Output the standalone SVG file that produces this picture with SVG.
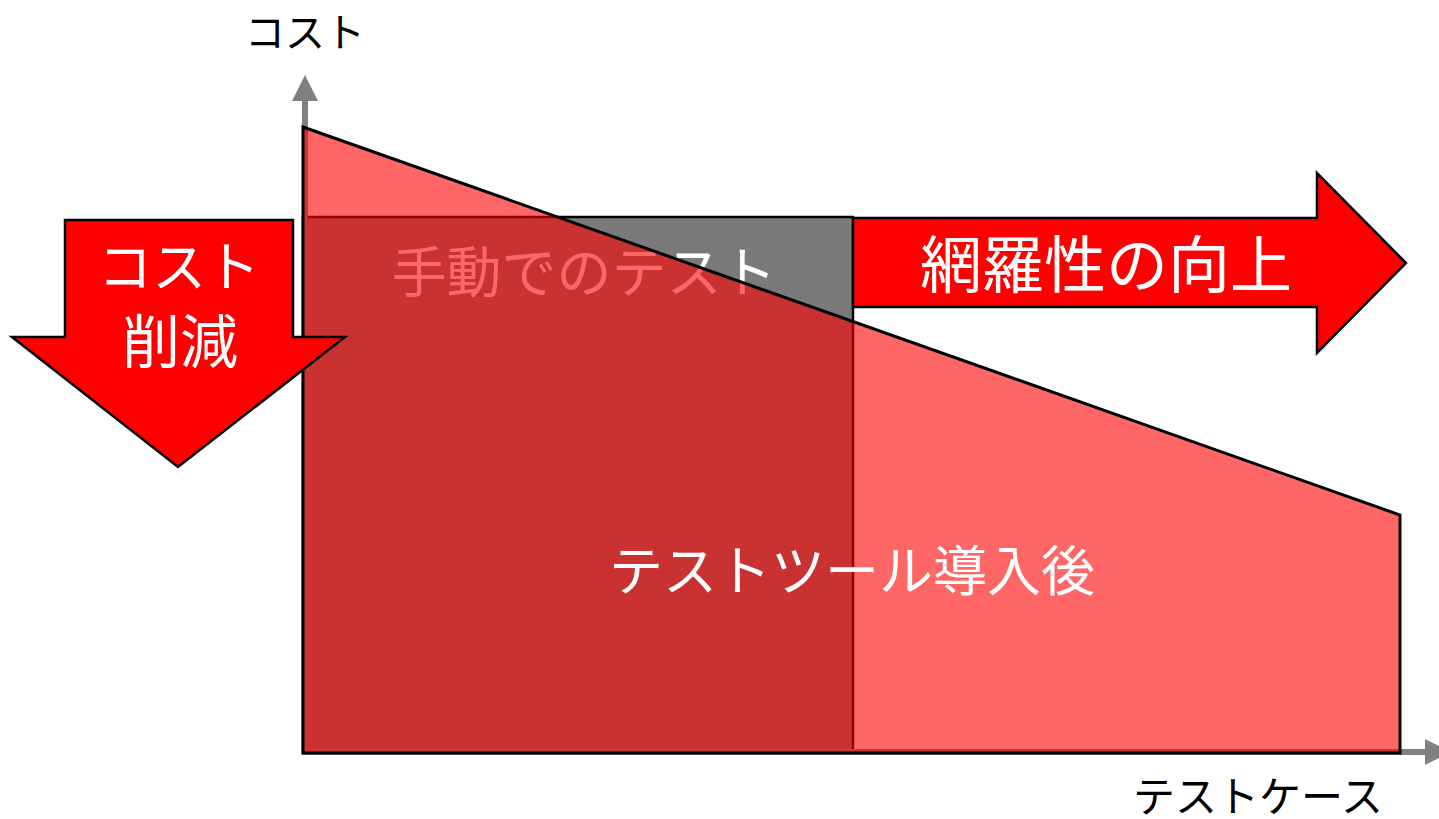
<svg xmlns="http://www.w3.org/2000/svg" width="1439" height="819" viewBox="0 0 1439 819">
<style>
text{font-family:"Noto Sans CJK JP","Noto Sans",sans-serif;}
.w{fill:#FFFFFF;}
.k{fill:#000000;}
.ax{stroke:#808080;stroke-width:6;fill:none;}
.axh{fill:#808080;}
.arr{fill:#FF0000;stroke:#000000;stroke-width:2.5;stroke-linejoin:miter;}
</style>
<rect width="1439" height="819" fill="#FFFFFF"/>
<g id="manual">
<rect x="303" y="217" width="550" height="536" fill="#7A7A7A" stroke="#000000" stroke-width="2.5"/>
<text class="w" x="584" y="292" font-size="55" text-anchor="middle">手動でのテスト</text>
</g>
<g id="axes">
<line class="ax" x1="305" y1="755" x2="305" y2="100"/>
<polygon class="axh" points="292,101 305,75 318,101"/>
<line class="ax" x1="303" y1="752" x2="1426" y2="752"/>
<polygon class="axh" points="1425,739 1451,752 1425,765"/>
</g>
<g id="after-tool">
<polygon points="303,127 1400,515 1400,753 303,753" fill="#FF0000" fill-opacity="0.6" stroke="#000000" stroke-width="3" stroke-linejoin="miter"/>
<text class="w" x="852" y="591" font-size="54" text-anchor="middle">テストツール導入後</text>
</g>
<g id="cost-down">
<polygon class="arr" points="65,220 293,220 293,337 345,337 178,467 12,337 65,337"/>
<text class="w" x="179" y="287" font-size="54" text-anchor="middle">コスト</text>
<text class="w" x="180" y="363" font-size="58" text-anchor="middle">削減</text>
</g>
<g id="coverage-up">
<polygon class="arr" points="853,218 1317,218 1317,173 1406,263 1317,353 1317,307 853,307"/>
<text class="w" x="1106" y="288" font-size="62" text-anchor="middle">網羅性の向上</text>
</g>
<g id="labels">
<text class="k" x="305" y="47" font-size="40" text-anchor="middle">コスト</text>
<text class="k" x="1258" y="812" font-size="42" text-anchor="middle">テストケース</text>
</g>
</svg>
